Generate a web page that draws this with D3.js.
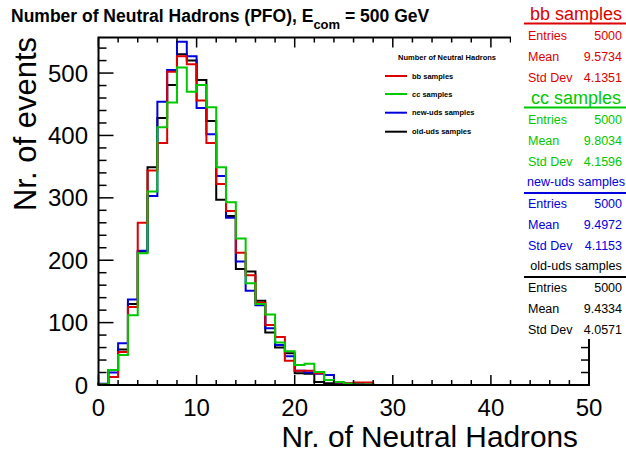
<!DOCTYPE html>
<html>
<head>
<meta charset="utf-8">
<script src="https://cdn.jsdelivr.net/npm/d3@7"></script>
<style>
  body { margin: 0; background: #fff; }
  svg { display: block; font-family: "Liberation Sans", Arial, sans-serif; }
</style>
</head>
<body>
<div id="chart"></div>
<script>
// bin contents, 1 unit wide bins from 0 to 50
var bbCounts  = [1, 13, 53, 125, 260, 344, 388, 502, 527, 514, 456, 388, 322, 279, 212, 176, 132, 96, 77, 39,
                 23, 23, 19, 8, 4, 3, 4, 4, 0, 0, 0, 0, 0, 0, 0, 0, 0, 0, 0, 0, 0, 0, 0, 0, 0, 0, 0, 0, 0, 0];
var ccCounts  = [1, 24, 48, 112, 211, 310, 413, 453, 509, 470, 481, 445, 349, 293, 235, 163, 130, 113, 68, 54,
                 32, 34, 21, 8, 5, 2, 1, 1, 0, 0, 0, 0, 0, 0, 0, 0, 0, 0, 0, 0, 0, 0, 0, 0, 0, 0, 0, 0, 0, 0];
var newCounts = [2, 20, 67, 137, 215, 303, 454, 505, 550, 527, 444, 402, 335, 268, 198, 151, 128, 91, 64, 46,
                 23, 20, 18, 16, 3, 2, 2, 1, 0, 0, 0, 0, 0, 0, 0, 0, 0, 0, 0, 0, 0, 0, 0, 0, 0, 0, 0, 0, 0, 0];
var oldCounts = [1, 24, 57, 130, 214, 349, 428, 481, 530, 520, 489, 423, 297, 271, 186, 182, 135, 84, 60, 51,
                 19, 18, 5, 3, 3, 2, 1, 0, 0, 0, 0, 0, 0, 0, 0, 0, 0, 0, 0, 0, 0, 0, 0, 0, 0, 0, 0, 0, 0, 0];

var sampleNames = ["bb samples", "cc samples", "new-uds samples", "old-uds samples"];
var entries = ["5000", "5000", "5000", "5000"];
var means   = ["9.5734", "9.8034", "9.4972", "9.4334"];
var stdDevs = ["4.1351", "4.1596", "4.1153", "4.0571"];

var xTicks = [0, 10, 20, 30, 40, 50];
var yTicks = [0, 100, 200, 300, 400, 500];

var colors = ["#dd0000", "#00c800", "#0000dd", "#000000"];
var allCounts = [bbCounts, ccCounts, newCounts, oldCounts];

var W = 626, H = 452;
var plot = {left: 98.5, right: 589, top: 37.5, bottom: 385};

var svg = d3.select("#chart").append("svg")
  .attr("width", W).attr("height", H);

var x = d3.scaleLinear().domain([0, 50]).range([plot.left, plot.right]);
var y = d3.scaleLinear().domain([0, 557]).range([plot.bottom, plot.top]);

// histograms (drawn black, blue, red, green so green ends on top)
var line = d3.line()
  .x(function(d) { return x(d[0]); })
  .y(function(d) { return y(d[1]); })
  .curve(d3.curveStepAfter);

[3, 2, 0, 1].forEach(function(k) {
  var counts = allCounts[k];
  var pts = [[0, 0]];
  counts.forEach(function(v, i) { pts.push([i, v]); });
  pts.push([counts.length, counts[counts.length - 1]]);
  pts.push([counts.length, 0]);
  svg.append("path")
    .attr("d", line(pts))
    .attr("fill", "none")
    .attr("stroke", colors[k])
    .attr("stroke-width", 2);
});

// frame
svg.append("rect")
  .attr("x", plot.left).attr("y", plot.top)
  .attr("width", plot.right - plot.left).attr("height", plot.bottom - plot.top)
  .attr("fill", "none").attr("stroke", "#000").attr("stroke-width", 2);

// ticks on all four sides
var ticksG = svg.append("g").attr("stroke", "#000").attr("stroke-width", 1.5);
d3.range(0, 51, 2).forEach(function(v) {
  var len = v % 10 === 0 ? 10 : 5;
  ticksG.append("line").attr("x1", x(v)).attr("x2", x(v)).attr("y1", plot.bottom).attr("y2", plot.bottom - len);
  ticksG.append("line").attr("x1", x(v)).attr("x2", x(v)).attr("y1", plot.top).attr("y2", plot.top + len);
});
d3.range(0, 557, 20).forEach(function(v) {
  var len = v % 100 === 0 ? 15 : 8;
  ticksG.append("line").attr("x1", plot.left).attr("x2", plot.left + len).attr("y1", y(v)).attr("y2", y(v));
  ticksG.append("line").attr("x1", plot.right).attr("x2", plot.right - len).attr("y1", y(v)).attr("y2", y(v));
});

// tick labels
svg.append("g").selectAll("text").data(xTicks).enter().append("text")
  .attr("x", function(d) { return x(d); })
  .attr("y", 416)
  .attr("text-anchor", "middle")
  .attr("font-size", 24)
  .text(function(d) { return d; });

svg.append("g").selectAll("text").data(yTicks).enter().append("text")
  .attr("x", 88)
  .attr("y", function(d) { return y(d); })
  .attr("dy", "0.36em")
  .attr("text-anchor", "end")
  .attr("font-size", 24)
  .text(function(d) { return d; });

// axis titles
svg.append("text")
  .attr("x", 578).attr("y", 447)
  .attr("text-anchor", "end")
  .attr("font-size", 29.8)
  .text("Nr. of Neutral Hadrons");

svg.append("text")
  .attr("transform", "translate(36,37) rotate(-90)")
  .attr("text-anchor", "end")
  .attr("font-size", 31)
  .text("Nr. of events");

// title
var title = svg.append("text")
  .attr("x", 11).attr("y", 22)
  .attr("font-size", 17.5)
  .attr("font-weight", "bold");
title.append("tspan").text("Number of Neutral Hadrons (PFO), E");
title.append("tspan").attr("dy", 7).attr("font-size", 13).text("com");
title.append("tspan").attr("dy", -7).text(" = 500 GeV");

// legend
var legend = svg.append("g").attr("font-weight", "bold").attr("font-size", 7.5);
legend.append("text")
  .attr("x", 447).attr("y", 57.7).attr("dy", "0.35em")
  .attr("text-anchor", "middle")
  .text("Number of Neutral Hadrons");
var legY = [76, 94, 112.7, 131.7];
sampleNames.forEach(function(name, i) {
  legend.append("line")
    .attr("x1", 385).attr("x2", 407).attr("y1", legY[i]).attr("y2", legY[i])
    .attr("stroke", colors[i]).attr("stroke-width", 2);
  legend.append("text")
    .attr("x", 412).attr("y", legY[i]).attr("dy", "0.35em")
    .text(name);
});

// stats boxes (white panel hides the frame corner behind them)
svg.append("rect")
  .attr("x", 511).attr("y", 0).attr("width", W - 511).attr("height", 339)
  .attr("fill", "#fff");

sampleNames.forEach(function(name, i) {
  var y0 = i * 84;
  var g = svg.append("g").attr("fill", colors[i]);
  var big = i < 2;
  g.append("text")
    .attr("x", 576).attr("y", y0 + 14).attr("dy", "0.35em")
    .attr("text-anchor", "middle")
    .attr("font-size", big ? 18 : 12.6)
    .text(name);
  var ly = y0 + (big ? 23.5 : 25);
  g.append("line")
    .attr("x1", 524).attr("x2", 626).attr("y1", ly).attr("y2", ly)
    .attr("stroke", colors[i]).attr("stroke-width", 2);
  var rows = [["Entries", entries[i]], ["Mean", means[i]], ["Std Dev", stdDevs[i]]];
  rows.forEach(function(r, j) {
    var ry = y0 + 35.5 + j * 21.3;
    g.append("text").attr("x", 528).attr("y", ry).attr("dy", "0.35em")
      .attr("font-size", 12.5).text(r[0]);
    g.append("text").attr("x", 622).attr("y", ry).attr("dy", "0.35em")
      .attr("text-anchor", "end").attr("font-size", 12.5).text(r[1]);
  });
});
</script>
</body>
</html>
